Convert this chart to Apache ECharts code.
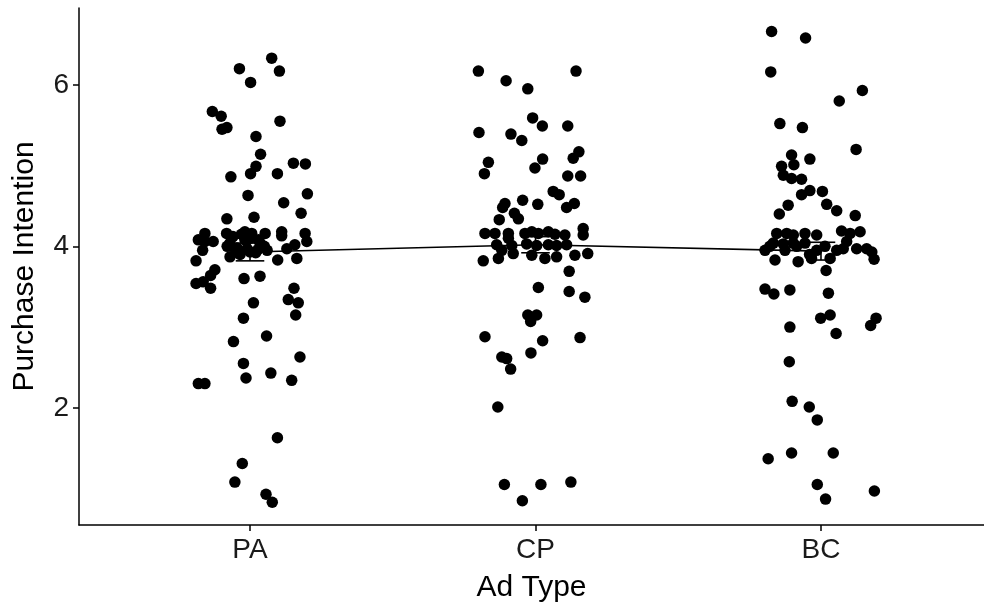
<!DOCTYPE html>
<html><head><meta charset="utf-8">
<script src="https://cdn.jsdelivr.net/npm/echarts@6/dist/echarts.min.js"></script>
<style>html,body{margin:0;padding:0;background:#fff}#c{width:984px;height:608px}</style>
</head><body><div id="c"></div>
<script>
// Categories and tick labels
const categories = ['PA', 'CP', 'BC'];
const yTicks = [2, 4, 6];

// Jittered observations per group: [horizontal jitter (category units), Purchase Intention]
const paPoints = [[0.076,6.33],[-0.037,6.20],[0.103,6.17],[0.002,6.03],[-0.132,5.67],[-0.101,5.61],[-0.098,5.45],[-0.081,5.47],[0.105,5.55],[0.021,5.36],[0.037,5.14],[0.021,4.99],[0.002,4.90],[0.152,5.03],[0.194,5.02],[-0.067,4.86],[0.096,4.90],[-0.007,4.63],[0.118,4.54],[0.201,4.65],[-0.081,4.34],[0.014,4.36],[0.179,4.41],
[-0.158,4.16],[-0.082,4.16],[-0.018,4.18],[0.006,4.16],[0.053,4.16],[0.111,4.18],[0.193,4.16],
[0.111,4.13],[-0.181,4.08],[-0.158,4.06],[-0.129,4.06],[-0.166,3.95],[-0.189,3.82],
[-0.07,4.04],[-0.046,3.98],[-0.018,4.08],[0.0,3.93],[-0.035,3.90],[0.028,3.96],[-0.06,4.12],[-0.03,4.15],[0.0,4.10],[0.03,4.08],[0.05,4.0],[-0.01,3.97],[0.02,3.92],[-0.05,3.93],[0.06,3.95],[-0.08,4.0],
[0.199,4.06],[0.157,4.02],[0.129,3.97],[0.164,3.85],[0.097,3.83],[-0.07,3.87],[0.035,4.04],[-0.123,3.71],[-0.138,3.64],[-0.189,3.54],[-0.164,3.56],[-0.138,3.48],[-0.021,3.60],[0.035,3.63],[0.154,3.48],
[0.012,3.30],[0.134,3.34],[0.169,3.30],[-0.023,3.11],[0.160,3.15],[-0.058,2.82],[0.058,2.89],[-0.023,2.55],[-0.014,2.37],[0.073,2.43],[0.146,2.34],[0.175,2.63],[-0.181,2.30],[-0.158,2.30],[0.096,1.63],[-0.027,1.31],[-0.053,1.08],[0.056,0.93],[0.078,0.83]];

const cpPoints = [[-0.200,6.17],[0.142,6.17],[-0.103,6.05],[-0.027,5.95],[-0.010,5.59],[0.024,5.49],[0.113,5.49],[-0.198,5.41],[-0.086,5.39],[-0.048,5.31],[0.152,5.17],[0.132,5.09],[-0.165,5.04],[-0.179,4.90],[0.025,5.08],[-0.002,4.97],[0.113,4.87],[0.158,4.87],[0.062,4.68],[0.083,4.64],[-0.107,4.53],[-0.115,4.48],[-0.045,4.57],[0.008,4.52],[-0.074,4.41],[-0.060,4.34],[-0.127,4.33],[0.136,4.53],[0.109,4.48],[0.167,4.22],
[-0.177,4.16],[-0.142,4.16],[-0.095,4.16],[-0.037,4.16],[-0.013,4.18],[0.010,4.16],[0.045,4.18],[0.068,4.15],[0.103,4.14],[0.167,4.14],
[-0.095,4.10],[-0.136,4.02],[-0.083,4.01],[-0.031,4.03],[0.004,4.01],[0.045,4.02],[0.074,4.01],[0.109,4.02],
[-0.130,3.85],[-0.118,3.95],[-0.078,3.91],[-0.013,3.89],[0.033,3.85],[0.074,3.87],[0.138,3.89],[0.183,3.91],[-0.183,3.82],[0.118,3.69],[0.010,3.49],[0.118,3.44],[0.173,3.37],
[-0.027,3.15],[0.004,3.15],[-0.017,3.07],[-0.177,2.88],[0.025,2.83],[0.156,2.87],[-0.118,2.63],[-0.101,2.61],[-0.087,2.48],[-0.016,2.68],[-0.132,2.01],[-0.109,1.05],[0.019,1.05],[0.124,1.08],[-0.046,0.85]];

const bcPoints = [[-0.173,6.66],[-0.054,6.58],[-0.176,6.16],[0.145,5.93],[0.064,5.80],[-0.144,5.52],[-0.065,5.47],[0.123,5.20],[-0.103,5.13],[-0.039,5.08],[-0.138,4.99],[-0.095,5.01],[-0.132,4.88],[-0.103,4.84],[-0.068,4.83],[-0.039,4.69],[-0.068,4.64],[0.005,4.68],[-0.115,4.51],[-0.146,4.40],[0.020,4.52],[0.055,4.44],[0.120,4.38],
[-0.155,4.16],[-0.120,4.16],[-0.097,4.14],[-0.056,4.16],[-0.015,4.14],[0.072,4.19],[0.102,4.16],[0.137,4.18],
[0.090,4.06],[-0.167,4.04],[-0.132,4.03],[-0.097,4.04],[-0.056,4.04],[-0.196,3.95],[-0.179,4.00],[-0.126,3.95],[-0.085,4.00],[-0.015,3.95],[0.055,3.95],[0.078,3.97],[0.125,3.97],[0.160,3.97],[0.178,3.93],[-0.161,3.83],[-0.080,3.81],[-0.033,3.85],[0.032,3.85],[0.186,3.84],[0.018,3.70],[-0.04,3.90],[0.014,4.0],
[-0.196,3.47],[-0.165,3.41],[-0.109,3.46],[0.026,3.42],
[-0.001,3.11],[0.032,3.15],[0.053,2.92],[-0.109,3.00],[0.193,3.11],[0.174,3.02],[-0.111,2.57],[-0.101,2.08],[-0.041,2.01],[-0.013,1.85],[-0.185,1.37],[-0.103,1.44],[0.043,1.44],[-0.013,1.05],[0.016,0.87],[0.187,0.97]];

// Group means and standard errors
const groupMeans = [3.93, 4.02, 3.94];
const groupSE = [0.11, 0.10, 0.11];

const groups = [paPoints, cpPoints, bcPoints];
const scatterData = [];
groups.forEach((g, i) => g.forEach(p => scatterData.push([i + 1 + p[0], p[1]])));
const meanData = groupMeans.map((m, i) => [i + 1, m]);
const errData = groupMeans.map((m, i) => [i + 1, m - groupSE[i], m + groupSE[i]]);

const FONT = 'Liberation Sans, Arial, sans-serif';
const chart = echarts.init(document.getElementById('c'), null, {renderer: 'canvas'});
chart.setOption({
  animation: false,
  backgroundColor: '#fff',
  grid: {left: 79, right: 0, top: 8, bottom: 83, containLabel: false, outerBoundsMode: 'none'},
  xAxis: {
    type: 'value', min: 0.401, max: 3.571,
    axisLine: {onZero: false, lineStyle: {color: '#000', width: 1.5}},
    axisTick: {customValues: [1, 2, 3], length: 6, lineStyle: {color: '#000', width: 1.5}},
    axisLabel: {customValues: [1, 2, 3], formatter: v => categories[Math.round(v) - 1], fontSize: 28, color: '#1a1a1a', margin: 11, fontFamily: FONT},
    splitLine: {show: false},
    name: 'Ad Type', nameLocation: 'middle', nameGap: 48,
    nameTextStyle: {fontSize: 30, color: '#000', fontFamily: FONT}
  },
  yAxis: {
    type: 'value', min: 0.549, max: 6.951,
    axisLine: {onZero: false, lineStyle: {color: '#000', width: 1.5}},
    axisTick: {customValues: yTicks, length: 6, lineStyle: {color: '#000', width: 1.5}},
    axisLabel: {customValues: yTicks, fontSize: 28, color: '#1a1a1a', margin: 10, fontFamily: FONT},
    splitLine: {show: false},
    name: 'Purchase Intention', nameLocation: 'middle', nameGap: 39,
    nameTextStyle: {fontSize: 30, color: '#000', fontFamily: FONT}
  },
  series: [
    {
      type: 'scatter', data: scatterData, symbol: 'circle', symbolSize: 11.5,
      itemStyle: {color: '#000', opacity: 1}, silent: true
    },
    {
      type: 'line', data: meanData, showSymbol: false, symbol: 'none',
      lineStyle: {color: '#000', width: 1.6}, silent: true
    },
    {
      type: 'custom', data: errData, silent: true,
      renderItem: function (params, api) {
        const x = api.value(0);
        const lo = api.coord([x, api.value(1)]);
        const hi = api.coord([x, api.value(2)]);
        const hw = api.size([0.05, 0])[0];
        const st = {stroke: '#000', lineWidth: 1.6};
        return {type: 'group', children: [
          {type: 'line', shape: {x1: lo[0], y1: lo[1], x2: hi[0], y2: hi[1]}, style: st},
          {type: 'line', shape: {x1: lo[0] - hw, y1: lo[1], x2: lo[0] + hw, y2: lo[1]}, style: st},
          {type: 'line', shape: {x1: hi[0] - hw, y1: hi[1], x2: hi[0] + hw, y2: hi[1]}, style: st}
        ]};
      }
    }
  ]
});
</script>
</body></html>
